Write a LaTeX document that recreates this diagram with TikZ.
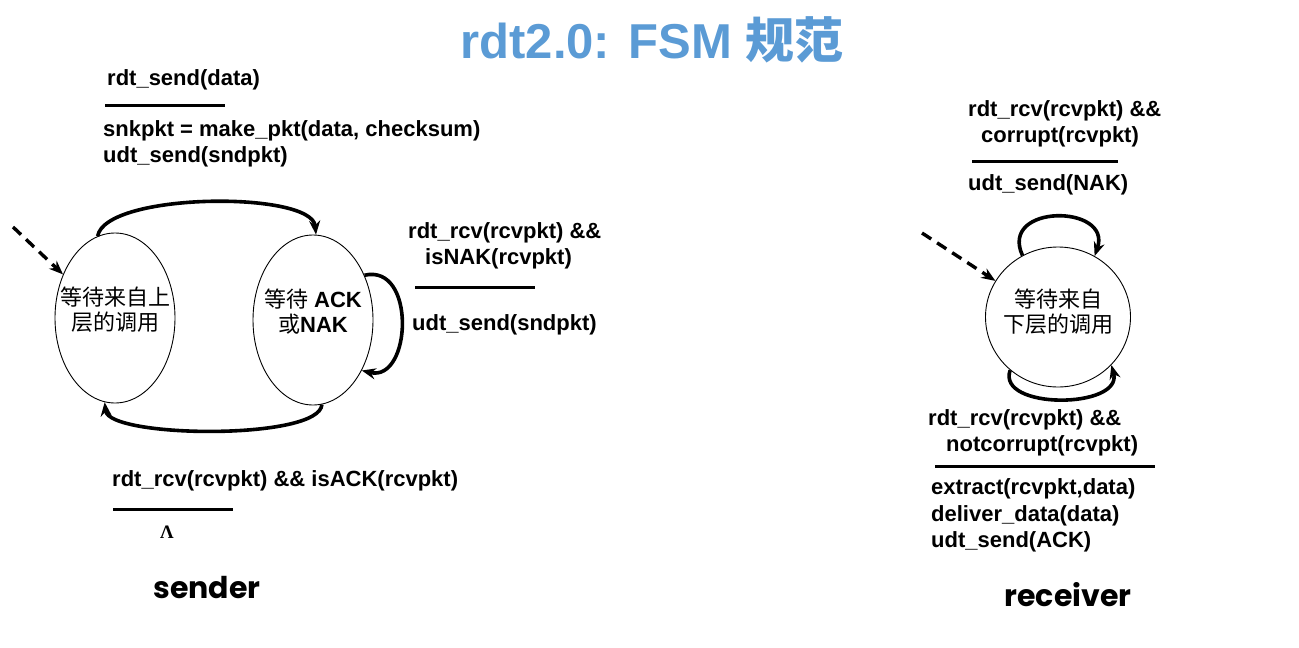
\documentclass[tikz,border=0pt]{standalone}
\usepackage{fontspec}
\setmainfont{Liberation Sans}
\newfontfamily\cjk{Noto Sans CJK SC}
\newfontfamily\handfont{Poppins}
\newfontfamily\serifg{Liberation Serif}
\usetikzlibrary{shapes.geometric,arrows.meta}
\definecolor{titleblue}{HTML}{5B9BD5}
\tikzset{
  lbl/.style={anchor=base west,inner sep=0pt,font=\fontsize{22}{26}\selectfont\bfseries},
  state/.style={draw,ellipse,line width=0.9pt,inner sep=0pt},
  stxt/.style={align=center,inner sep=0pt,font=\fontsize{22}{25}\selectfont},
  trans/.style={line width=3.6pt,-{Stealth[length=14pt,width=11pt]}},
  init/.style={line width=3.4pt,dash pattern=on 11pt off 7pt,-{Stealth[length=14pt,width=11pt]}},
  bar/.style={line width=3pt},
  role/.style={font=\handfont\fontsize{30}{34}\selectfont\bfseries,inner sep=0pt}
}
\begin{document}
\begin{tikzpicture}[x=1pt,y=-1pt]
\useasboundingbox (0,0) rectangle (1299,648);
% title
\node[font=\fontsize{49}{54}\selectfont\bfseries,text=titleblue,inner sep=0pt] (title) at (652,40) {rdt2.0: FSM {\cjk\bfseries 规范}};
% sender states
\node[state,minimum width=120pt,minimum height=170pt,
  label={[stxt,yshift=8pt]center:{\cjk 等待来自上}\\{\cjk 层的调用}}] (s1) at (115,318) {};
\node[state,minimum width=120pt,minimum height=170pt,
  label={[stxt,yshift=8pt]center:{\cjk 等待} \bfseries ACK\\{\cjk 或}\bfseries NAK}] (s2) at (313,320) {};
\coordinate (sinit) at (13,227);
\draw[init] (sinit) -- (s1.140);
\draw[trans] (s1.102) .. controls +(8,-44) and +(-4,-44) .. (s2.88);
\draw[trans] (s2.276) .. controls +(-2,36) and +(4,36) .. (s1.263);
\draw[trans] (s2.41) .. controls +(52,-12) and +(50,12) .. (s2.-46);
% sender labels
\node[lbl] (l1) at (107,85) {rdt\_send(data)};
\coordinate (b1a) at (105,105); \coordinate (b1b) at (225,105);
\draw[bar] (b1a) -- (b1b);
\node[lbl] (l2) at (103,136) {snkpkt = make\_pkt(data, checksum)};
\node[lbl] (l3) at (103,162) {udt\_send(sndpkt)};
\node[lbl] (l4) at (408,238) {rdt\_rcv(rcvpkt) \&\&};
\node[lbl] (l5) at (425,264) {isNAK(rcvpkt)};
\coordinate (b2a) at (415,287); \coordinate (b2b) at (535,287);
\draw[bar] (b2a) -- (b2b);
\node[lbl] (l6) at (412,330) {udt\_send(sndpkt)};
\node[lbl] (l7) at (112,486) {rdt\_rcv(rcvpkt) \&\& isACK(rcvpkt)};
\coordinate (b3a) at (113,509); \coordinate (b3b) at (233,509);
\draw[bar] (b3a) -- (b3b);
\node[inner sep=0pt,font=\serifg\fontsize{19}{22}\selectfont\bfseries] (lam) at (167,532) {Λ};
\node[role] (snd) at (207,588) {sender};
% receiver
\node[state,minimum width=145pt,minimum height=140pt,
  label={[stxt,yshift=5pt]center:{\cjk 等待来自}\\{\cjk 下层的调用}}] (r1) at (1058,317) {};
\coordinate (rinit) at (922,233);
\draw[init] (rinit) -- (r1.150);
\draw[trans] (r1.120) .. controls +(-24,-52) and +(18,-52) .. (r1.59);
\draw[trans] (r1.228) .. controls +(-14,40) and +(12,44) .. (r1.318);
\node[lbl] (m1) at (968,116) {rdt\_rcv(rcvpkt) \&\&};
\node[lbl] (m2) at (981,142) {corrupt(rcvpkt)};
\coordinate (b4a) at (972,161); \coordinate (b4b) at (1118,161);
\draw[bar] (b4a) -- (b4b);
\node[lbl] (m3) at (968,190) {udt\_send(NAK)};
\node[lbl] (m4) at (928,425) {rdt\_rcv(rcvpkt) \&\&};
\node[lbl] (m5) at (946,451) {notcorrupt(rcvpkt)};
\coordinate (b5a) at (935,466); \coordinate (b5b) at (1155,466);
\draw[bar] (b5a) -- (b5b);
\node[lbl] (m6) at (931,494) {extract(rcvpkt,data)};
\node[lbl] (m7) at (931,521) {deliver\_data(data)};
\node[lbl] (m8) at (931,547) {udt\_send(ACK)};
\node[role] (rcv) at (1068,595) {receiver};
\end{tikzpicture}
\end{document}
